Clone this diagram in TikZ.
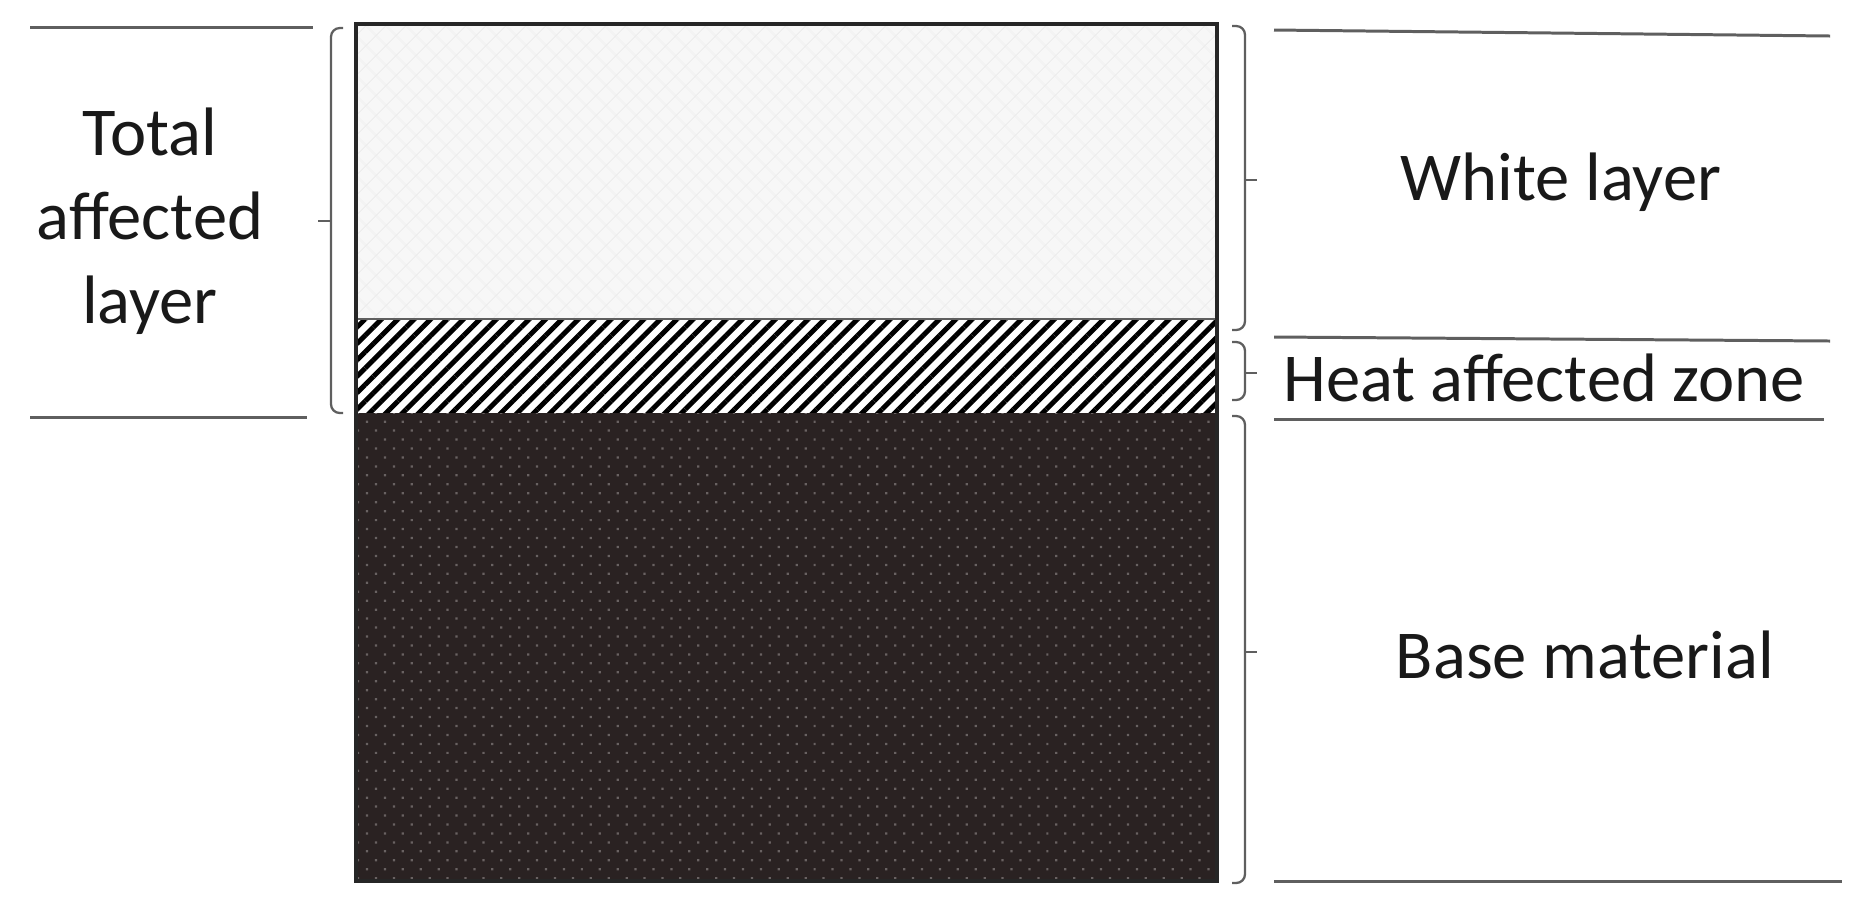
\documentclass[tikz,border=0pt]{standalone}
\usepackage{fontspec}
\setmainfont{Carlito}
\usetikzlibrary{patterns.meta}
\definecolor{basebrown}{RGB}{42,34,34}
\definecolor{dotgray}{RGB}{105,98,98}
\definecolor{rulegray}{RGB}{95,95,95}

\begin{document}
\begin{tikzpicture}
    [x=0.01cm, y=-0.01cm,
    every node/.style={font=\fontsize{19.5}{23.9}\selectfont,
    text=black!90, align=center, inner sep=0pt},
    rule/.style={draw=rulegray, line width=0.85pt},
    bracket/.style={draw=rulegray, line width=0.65pt, rounded corners=2.5pt},
    whitefill/.style={fill=gray!6,
    postaction={pattern={Hatch[angle=45, distance=4pt, line width=0.3pt]},
    pattern color=gray!14}},
    hazfill/.style={fill=white,
    postaction={pattern={Lines[angle=45, distance=3.3pt, line width=1.4pt]},
    pattern color=black}},
    basefill/.style={fill=basebrown,
    postaction={pattern={Dots[angle=45, distance=3.6pt, radius=0.45pt]},
    pattern color=dotgray}}]
    \useasboundingbox (0,0) rectangle (1875,914);
    % layers of the section
    \coordinate (topW) at (356,24);
    \coordinate (wlE) at (1217,319);
    \coordinate (hazW) at (356,319);
    \coordinate (hazE) at (1217,413);
    \coordinate (baseW) at (356,413);
    \coordinate (botE) at (1217,881);
    \path[whitefill] (topW) rectangle (wlE);
    \path[hazfill] (hazW) rectangle (hazE);
    \path[basefill] (baseW) rectangle (botE);
    \draw[rulegray, line width=0.5pt] (hazW) -- (wlE);
    \draw[black!85, line width=0.9pt] (topW) rectangle (botE);
    % rules
    \draw[rule] (30,27) -- (313,27);
    \draw[rule] (30,417) -- (307,417);
    \draw[rule] (1274,30) -- (1830,36);
    \draw[rule] (1274,337) -- (1830,341);
    \draw[rule] (1274,419) -- (1824,419);
    \draw[rule] (1274,881) -- (1842,881);
    % braces
    \draw[bracket] (343,28) -- (331,28) -- (331,413) -- (343,413);
    \draw[bracket] (331,221) -- (318,221);
    \draw[bracket] (1232,26) -- (1245,26) -- (1245,330) -- (1232,330);
    \draw[bracket] (1245,180) -- (1257,180);
    \draw[bracket] (1232,342) -- (1245,342) -- (1245,400) -- (1232,400);
    \draw[bracket] (1245,373) -- (1257,373);
    \draw[bracket] (1232,416) -- (1245,416) -- (1245,883) -- (1232,883);
    \draw[bracket] (1245,652) -- (1257,652);
    % labels
    \node (total) at (150,221) {Total\\affected\\layer};
    \node (white) at (1561,182) {White layer};
    \node (haz) at (1544,378) {Heat affected zone};
    \node (base) at (1585,655) {Base material};
\end{tikzpicture}
\end{document}
